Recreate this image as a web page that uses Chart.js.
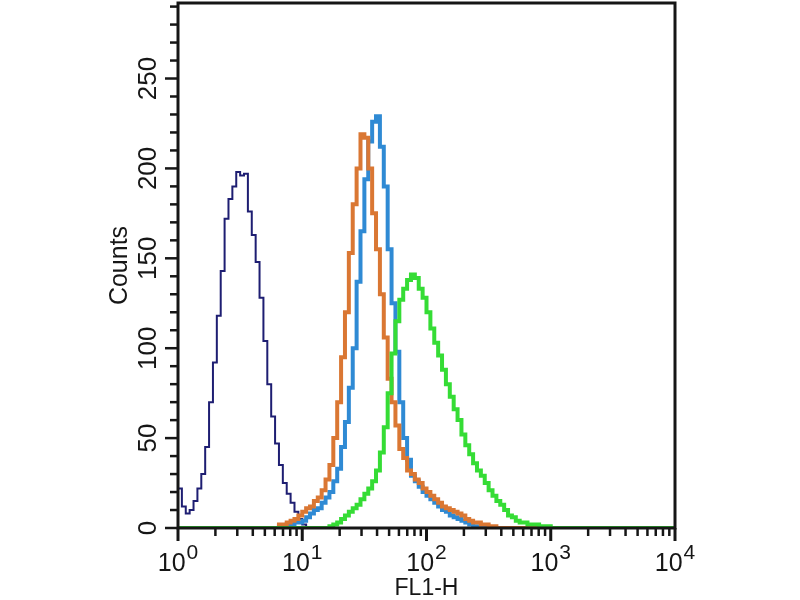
<!DOCTYPE html>
<html>
<head>
<meta charset="utf-8">
<script src="https://cdn.jsdelivr.net/npm/chart.js@4.4.1/dist/chart.umd.min.js"></script>
<style>
  html, body { margin: 0; padding: 0; background: #fff; }
  #myChart { display: block; }
</style>
</head>
<body>
<canvas id="myChart" width="800" height="600"></canvas>
<script>
// histogram: 32 channels per decade, channel c sits at FL1-H = 10^(c/32)
const CHANNELS_PER_DECADE = 32;
const LAST_CHANNEL = 128;

// counts, starting at the given channel (zero elsewhere)
const navyStart = 0;
const navyCounts = [
  22, 12, 8, 10, 15, 22, 30, 45, 70, 92, 118, 143, 172, 183, 190, 198,
  196, 197, 176, 163, 148, 128, 104, 80, 62, 47, 35, 25, 19, 14, 9, 5, 2, 0,
];

const blueStart = 26;
const blueCounts = [
  1, 1, 2, 2, 3, 3, 4, 6, 8, 10, 11, 14, 17, 20, 26, 33, 45, 59, 78, 100,
  137, 165, 194, 215, 226, 229, 212, 190, 155, 125, 98, 70, 50, 38, 29, 26,
  23, 20, 18, 16, 14, 12, 10, 9, 7, 6, 5, 4, 3, 2, 1, 0,
];

const orangeStart = 26;
const orangeCounts = [
  2, 2, 3, 4, 5, 7, 9, 11, 12, 15, 17, 21, 27, 35, 50, 70, 95, 120, 153,
  180, 200, 219, 217, 200, 175, 155, 130, 106, 83, 70, 57, 44, 39, 32, 30,
  27, 25, 22, 20, 18, 16, 14, 12, 11, 10, 9, 8, 7, 5, 4, 3, 3, 2, 2, 1, 1, 0,
];

const greenStart = 38;
const greenCounts = [
  0, 1, 2, 3, 5, 7, 9, 11, 13, 16, 19, 22, 26, 32, 42, 56, 75, 97, 115,
  127, 133, 138, 141, 139, 133, 128, 120, 111, 103, 96, 88, 80, 73, 66, 60,
  52, 46, 41, 36, 32, 29, 25, 21, 18, 15, 13, 10, 7, 6, 4, 3, 3, 2, 2, 2,
  1, 1, 1, 0,
];

const xMajorTicks = [1, 10, 100, 1000, 10000];
const xTickExponents = ["0", "1", "2", "3", "4"];
const yMajorTicks = [0, 50, 100, 150, 200, 250];
const yTickLabels = ["0", "50", "100", "150", "200", "250"];

const FONT = "'Liberation Sans', Arial, Helvetica, sans-serif";
const INK = "#161616";

function toPoints(start, counts) {
  const pts = [];
  for (let c = 0; c <= LAST_CHANNEL; c++) {
    const i = c - start;
    const y = i >= 0 && i < counts.length ? counts[i] : 0;
    pts.push({ x: Math.pow(10, c / CHANNELS_PER_DECADE), y: y });
  }
  return pts;
}

// frame, tick marks and tick labels (log minor ticks + rotated y labels)
const facsAxes = {
  id: "facsAxes",
  afterDraw(chart) {
    const ctx = chart.ctx;
    const area = chart.chartArea;
    const xs = chart.scales.x;
    const ys = chart.scales.y;
    ctx.save();
    ctx.strokeStyle = INK;
    ctx.fillStyle = INK;
    ctx.lineWidth = 3;
    ctx.strokeRect(area.left, area.top, area.right - area.left, area.bottom - area.top);

    // y ticks every 10
    ctx.lineWidth = 2.5;
    for (let v = 0; v <= ys.max; v += 10) {
      const y = ys.getPixelForValue(v);
      const len = v % 50 === 0 ? 13 : 8;
      ctx.beginPath();
      ctx.moveTo(area.left - len, y);
      ctx.lineTo(area.left, y);
      ctx.stroke();
    }

    // x ticks: decades long, 2..9 short
    for (let d = 0; d < xMajorTicks.length; d++) {
      const m = xMajorTicks[d];
      const x = xs.getPixelForValue(m);
      ctx.lineWidth = 3;
      ctx.beginPath();
      ctx.moveTo(x, area.bottom);
      ctx.lineTo(x, area.bottom + 13);
      ctx.stroke();
      if (d === xMajorTicks.length - 1) continue;
      ctx.lineWidth = 2.5;
      for (let k = 2; k <= 9; k++) {
        const xm = xs.getPixelForValue(m * k);
        ctx.beginPath();
        ctx.moveTo(xm, area.bottom);
        ctx.lineTo(xm, area.bottom + 8);
        ctx.stroke();
      }
    }

    // y labels, rotated
    ctx.font = "26px " + FONT;
    ctx.textAlign = "center";
    ctx.textBaseline = "middle";
    yMajorTicks.forEach(function (v, i) {
      const y = ys.getPixelForValue(v);
      ctx.save();
      ctx.translate(148, y);
      ctx.rotate(-Math.PI / 2);
      ctx.fillText(yTickLabels[i], 0, 1);
      ctx.restore();
    });

    // x labels: 10 with superscript exponent
    ctx.textAlign = "left";
    ctx.textBaseline = "alphabetic";
    xMajorTicks.forEach(function (v, i) {
      const x = xs.getPixelForValue(v);
      ctx.font = "25px " + FONT;
      const wBase = ctx.measureText("10").width;
      ctx.font = "21px " + FONT;
      const wSup = ctx.measureText(xTickExponents[i]).width;
      const x0 = x - (wBase + 1 + wSup) / 2;
      ctx.font = "25px " + FONT;
      ctx.fillText("10", x0, 571);
      ctx.font = "21px " + FONT;
      ctx.fillText(xTickExponents[i], x0 + wBase + 1, 559);
    });
    ctx.restore();
  },
};

const myChart = new Chart("myChart", {
  type: "line",
  data: {
    datasets: [
      {
        label: "green",
        data: toPoints(greenStart, greenCounts),
        borderColor: "#35dc35",
        borderWidth: 4,
      },
      {
        label: "orange",
        data: toPoints(orangeStart, orangeCounts),
        borderColor: "#da7733",
        borderWidth: 4,
      },
      {
        label: "blue",
        data: toPoints(blueStart, blueCounts),
        borderColor: "#2f8ad4",
        borderWidth: 4,
      },
      {
        label: "navy",
        data: toPoints(navyStart, navyCounts),
        borderColor: "#1e1e72",
        borderWidth: 2,
      },
    ],
  },
  options: {
    responsive: false,
    animation: false,
    parsing: true,
    elements: {
      line: { stepped: true, tension: 0, fill: false },
      point: { radius: 0, hoverRadius: 0 },
    },
    layout: {
      padding: { left: 0, right: 125, top: 3, bottom: 0 },
    },
    scales: {
      x: {
        type: "logarithmic",
        min: 1,
        max: 10000,
        ticks: { display: false },
        grid: { display: false },
        border: { display: false },
        title: {
          display: true,
          text: "FL1-H",
          color: INK,
          font: { family: FONT, size: 23, lineHeight: 1 },
          padding: { top: 0, bottom: 0 },
        },
        afterFit: function (scale) {
          scale.height = 72;
        },
      },
      y: {
        type: "linear",
        min: 0,
        max: 292,
        ticks: { display: false },
        grid: { display: false },
        border: { display: false },
        title: {
          display: true,
          text: "Counts",
          color: INK,
          font: { family: FONT, size: 25, lineHeight: 1 },
          padding: { top: 108, bottom: 0 },
        },
        afterFit: function (scale) {
          scale.width = 178;
        },
      },
    },
    plugins: {
      legend: { display: false },
      tooltip: { enabled: false },
    },
  },
  plugins: [facsAxes],
});
</script>
</body>
</html>
